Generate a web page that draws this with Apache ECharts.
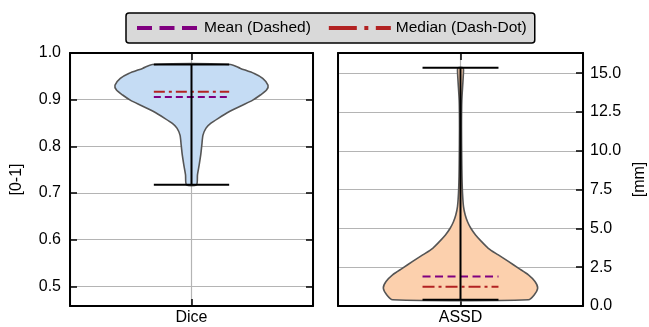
<!DOCTYPE html>
<html>
<head>
<meta charset="utf-8">
<script src="https://cdn.jsdelivr.net/npm/echarts@6/dist/echarts.min.js"></script>
<style>
  html, body { margin: 0; padding: 0; background: #fff; }
  #chart { width: 649px; height: 327px; }
</style>
</head>
<body>
<div id="chart"></div>
<script>
// Metric names, one per panel
const categories = ['Dice', 'ASSD'];

// Dice violin: sampled levels and relative kernel density (1 = widest)
const diceLevels  = [0.7175, 0.739, 0.760, 0.781, 0.803, 0.824, 0.839, 0.849, 0.860, 0.874,
                     0.888, 0.899, 0.910, 0.9205, 0.931, 0.9455, 0.956, 0.967, 0.9755];
const diceDensity = [0.065, 0.078, 0.10, 0.12, 0.135, 0.15, 0.19, 0.25, 0.35, 0.49,
                     0.665, 0.80, 0.90, 0.98, 1.0, 0.93, 0.82, 0.64, 0.51];

// ASSD violin (mm): sampled levels and relative kernel density
const assdLevels  = [0.40, 0.73, 1.16, 1.58, 2.01, 2.44, 2.87, 3.29, 3.72, 4.15, 4.58, 5.01,
                     5.43, 5.86, 6.40, 7.26, 8.32, 9.40, 11.5, 13.25, 14.5, 15.2, 15.35];
const assdDensity = [0.88, 0.957, 1.0, 0.965, 0.88, 0.75, 0.62, 0.49, 0.36, 0.273, 0.195, 0.134,
                     0.091, 0.061, 0.039, 0.026, 0.019, 0.016, 0.013, 0.017, 0.032, 0.039, 0.032];

// Summary statistics per metric
const minValues    = [0.7175, 0.40];
const maxValues    = [0.9755, 15.35];
const meanValues   = [0.906, 1.90];
const medianValues = [0.917, 1.24];

// Axis ranges
const diceRange = [0.458, 1.0];
const assdRange = [0, 16.3];
const assdTickStep = 2.5;

// Drawing constants (in x-axis units, panel spans -0.5 .. 0.5)
const BODY_HALF = 0.315;
const CAP_HALF = 0.155;
const FONT = 'Liberation Sans, Arial, Helvetica, sans-serif';

const MEAN_COLOR = '#800080';
const MEDIAN_COLOR = '#b22222';

function bodyRenderer(levels, density, fill) {
  return function (params, api) {
    const leftSide = [], rightSide = [];
    for (let i = 0; i < levels.length; i++) {
      leftSide.push(api.coord([-density[i] * BODY_HALF, levels[i]]));
      rightSide.push(api.coord([density[i] * BODY_HALF, levels[i]]));
    }
    const pts = leftSide.concat(rightSide.reverse());
    return {
      type: 'polygon',
      shape: { points: pts, smooth: 0.25 },
      style: { fill: fill, stroke: '#555555', lineWidth: 1.6 }
    };
  };
}

function whiskerRenderer(idx) {
  return function (params, api) {
    const lo = minValues[idx], hi = maxValues[idx];
    const a = api.coord([0, lo]), b = api.coord([0, hi]);
    const l1 = api.coord([-CAP_HALF, lo]), r1 = api.coord([CAP_HALF, lo]);
    const l2 = api.coord([-CAP_HALF, hi]), r2 = api.coord([CAP_HALF, hi]);
    const st = { stroke: '#000', lineWidth: 2 };
    return {
      type: 'group',
      children: [
        { type: 'line', shape: { x1: a[0], y1: a[1], x2: b[0], y2: b[1] }, style: st },
        { type: 'line', shape: { x1: l1[0], y1: l1[1], x2: r1[0], y2: r1[1] }, style: st },
        { type: 'line', shape: { x1: l2[0], y1: l2[1], x2: r2[0], y2: r2[1] }, style: st }
      ]
    };
  };
}

const axisLineStyle = { onZero: false, lineStyle: { color: '#000', width: 2 } };
const tickStyle = { show: true, inside: true, length: 7, lineStyle: { color: '#000', width: 1.5 } };
const gridLine = { show: true, lineStyle: { color: '#b4b4b4', width: 1.2 } };

function xAxes(gridIndex, label) {
  const base = {
    type: 'value', gridIndex: gridIndex, min: -0.5, max: 0.5, interval: 0.5,
    axisLine: axisLineStyle, axisTick: tickStyle
  };
  return [
    Object.assign({}, base, {
      position: 'bottom',
      splitLine: gridLine,
      axisLabel: {
        margin: 4, fontSize: 16, color: '#000', fontFamily: FONT,
        formatter: v => (Math.abs(v) < 1e-9 ? label : '')
      }
    }),
    Object.assign({}, base, {
      position: 'top', splitLine: { show: false }, axisLabel: { show: false }
    })
  ];
}

const hiddenSymbol = { color: 'rgba(0,0,0,0)', borderWidth: 0, opacity: 0 };

const option = {
  animation: false,
  backgroundColor: '#fff',
  legend: {
    left: 126, top: 13,
    padding: [7, 8, 7, 9],
    itemGap: 16,
    itemWidth: 62, itemHeight: 16,
    backgroundColor: '#d9d9d9',
    borderColor: '#000', borderWidth: 1.5, borderRadius: 3,
    textStyle: { fontSize: 15.5, color: '#000', fontFamily: FONT },
    data: [
      { name: 'Mean (Dashed)', itemStyle: hiddenSymbol,
        lineStyle: { color: MEAN_COLOR, width: 4, type: [15, 7.5] } },
      { name: 'Median (Dash-Dot)', itemStyle: hiddenSymbol,
        lineStyle: { color: MEDIAN_COLOR, width: 4, type: [28, 7.5, 4, 7.5] } }
    ]
  },
  grid: [
    { left: 70, top: 53, width: 243, height: 253 },
    { left: 338, top: 53, width: 245, height: 253 }
  ],
  xAxis: xAxes(0, categories[0]).concat(xAxes(1, categories[1])),
  yAxis: [
    {
      type: 'value', gridIndex: 0, position: 'left',
      min: diceRange[0], max: diceRange[1], splitNumber: 5,
      axisLine: axisLineStyle, axisTick: tickStyle, splitLine: gridLine,
      axisLabel: {
        margin: 9, fontSize: 16, color: '#000', fontFamily: FONT,
        showMinLabel: false, formatter: v => v.toFixed(1)
      },
      name: '[0-1]', nameLocation: 'middle', nameGap: 45, nameRotate: 90,
      nameTextStyle: { fontSize: 16, color: '#000', fontFamily: FONT }
    },
    {
      type: 'value', gridIndex: 0, position: 'right',
      min: diceRange[0], max: diceRange[1], splitNumber: 5,
      axisLine: axisLineStyle, axisTick: tickStyle,
      splitLine: { show: false }, axisLabel: { show: false }
    },
    {
      type: 'value', gridIndex: 1, position: 'left',
      min: assdRange[0], max: assdRange[1], interval: assdTickStep,
      axisLine: axisLineStyle, axisTick: { show: false },
      splitLine: { show: false }, axisLabel: { show: false }
    },
    {
      type: 'value', gridIndex: 1, position: 'right',
      min: assdRange[0], max: assdRange[1], interval: assdTickStep,
      axisLine: axisLineStyle, axisTick: tickStyle, splitLine: gridLine,
      axisLabel: {
        margin: 7, fontSize: 16, color: '#000', fontFamily: FONT,
        showMaxLabel: false, formatter: v => v.toFixed(1)
      },
      name: '[mm]', nameLocation: 'middle', nameGap: 49, nameRotate: 90,
      nameTextStyle: { fontSize: 16, color: '#000', fontFamily: FONT }
    }
  ],
  series: [
    {
      type: 'custom', xAxisIndex: 0, yAxisIndex: 0, z: 2, silent: true,
      data: [[0, medianValues[0]]],
      renderItem: bodyRenderer(diceLevels, diceDensity, '#c5dcf4')
    },
    {
      type: 'custom', xAxisIndex: 2, yAxisIndex: 2, z: 2, silent: true,
      data: [[0, medianValues[1]]],
      renderItem: bodyRenderer(assdLevels, assdDensity, '#fcd0ad')
    },
    {
      name: 'Mean (Dashed)', type: 'line', xAxisIndex: 0, yAxisIndex: 0, z: 3,
      symbol: 'none', silent: true,
      data: [[-CAP_HALF, meanValues[0]], [CAP_HALF, meanValues[0]]],
      lineStyle: { color: MEAN_COLOR, width: 2, type: [7, 4] }
    },
    {
      name: 'Median (Dash-Dot)', type: 'line', xAxisIndex: 0, yAxisIndex: 0, z: 3,
      symbol: 'none', silent: true,
      data: [[-CAP_HALF, medianValues[0]], [CAP_HALF, medianValues[0]]],
      lineStyle: { color: MEDIAN_COLOR, width: 2, type: [11, 4, 3, 4] }
    },
    {
      name: 'Mean (Dashed)', type: 'line', xAxisIndex: 2, yAxisIndex: 2, z: 3,
      symbol: 'none', silent: true,
      data: [[-CAP_HALF, meanValues[1]], [CAP_HALF, meanValues[1]]],
      lineStyle: { color: MEAN_COLOR, width: 2, type: [8, 4.5] }
    },
    {
      name: 'Median (Dash-Dot)', type: 'line', xAxisIndex: 2, yAxisIndex: 2, z: 3,
      symbol: 'none', silent: true,
      data: [[-CAP_HALF, medianValues[1]], [CAP_HALF, medianValues[1]]],
      lineStyle: { color: MEDIAN_COLOR, width: 2, type: [12, 4, 3, 4] }
    },
    {
      type: 'custom', xAxisIndex: 0, yAxisIndex: 0, z: 4, silent: true,
      data: [[0, medianValues[0]]],
      renderItem: whiskerRenderer(0)
    },
    {
      type: 'custom', xAxisIndex: 2, yAxisIndex: 2, z: 4, silent: true,
      data: [[0, medianValues[1]]],
      renderItem: whiskerRenderer(1)
    }
  ]
};

const chart = echarts.init(document.getElementById('chart'), null, { renderer: 'canvas' });
chart.setOption(option);
</script>
</body>
</html>
